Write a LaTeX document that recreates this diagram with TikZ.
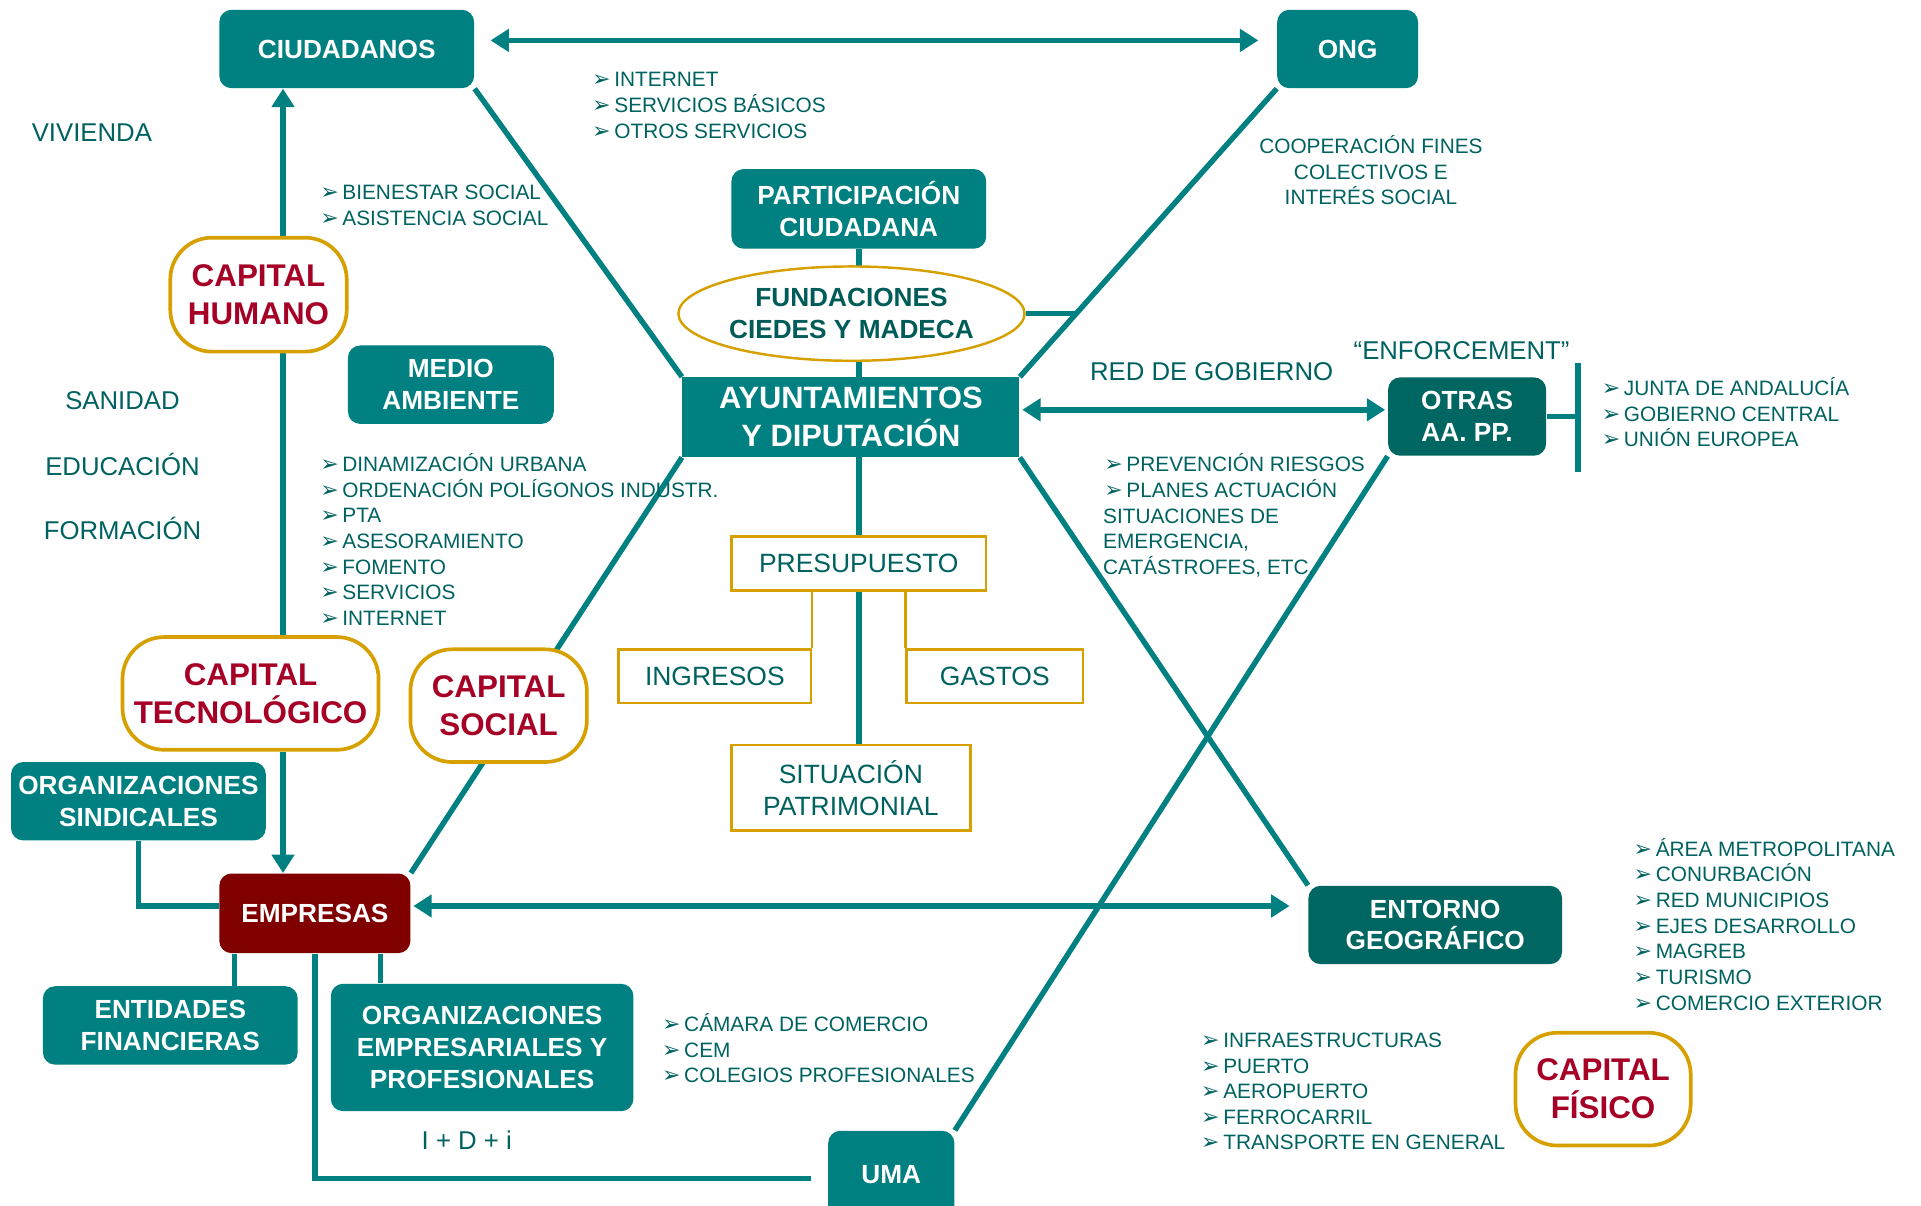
\documentclass[tikz,border=0pt]{standalone}
\usepackage{fontspec}
\setmainfont{Liberation Sans}
\newfontfamily\symb{DejaVu Sans}
\usetikzlibrary{arrows.meta,shapes.geometric,backgrounds}

\definecolor{teal0}{RGB}{0,128,128}
\definecolor{tealdark}{RGB}{0,102,98}
\definecolor{tealtxt}{RGB}{0,98,96}
\definecolor{fundtxt}{RGB}{0,92,88}
\definecolor{gold}{RGB}{214,160,0}
\definecolor{capred}{RGB}{166,0,38}
\definecolor{empred}{RGB}{128,0,0}

\newcommand{\boxfont}{\bfseries\fontsize{10.7}{13}\selectfont}
\newcommand{\bigfont}{\bfseries\fontsize{12.6}{15.5}\selectfont}
\newcommand{\capfont}{\bfseries\fontsize{12.8}{15.5}\selectfont}
\newcommand{\goldfont}{\fontsize{10.8}{13}\selectfont}
\newcommand{\lblfont}{\fontsize{10.5}{13}\selectfont}
\newcommand{\listfont}{\fontsize{8.5}{10.5}\selectfont}
\newcommand{\blt}{{\symb\fontsize{9}{9}\selectfont ➢}\hspace{1.5pt}}

\tikzstyle{box}=[rectangle, fill=teal0, rounded corners=5pt, text=white, font=\boxfont, align=center, inner sep=0pt]
\tikzstyle{darkbox}=[box, fill=tealdark]
\tikzstyle{capital}=[rectangle, draw=gold, line width=1.5pt, fill=white, rounded corners=17pt, text=capred, font=\capfont, align=center, inner sep=0pt]
\tikzstyle{goldbox}=[rectangle, draw=gold, line width=1pt, fill=white, text=tealtxt, font=\goldfont, align=center, inner sep=0pt]
\tikzstyle{fund}=[ellipse, draw=gold, line width=1pt, fill=white, text=fundtxt, font=\boxfont, align=center, inner sep=0pt, minimum width=136pt, minimum height=38.5pt]
\tikzstyle{line}=[draw=teal0, line width=2.2pt]
\tikzstyle{goldline}=[draw=gold, line width=1pt]
\tikzstyle{arr}=[line, -{Triangle[length=7.5pt,width=9pt]}]
\tikzstyle{dblarr}=[line, {Triangle[length=7.5pt,width=9pt]}-{Triangle[length=7.5pt,width=9pt]}]
\tikzstyle{lbl}=[text=tealtxt, font=\lblfont, inner sep=0pt]
\tikzstyle{listtext}=[anchor=base west, text=tealtxt, font=\listfont, inner sep=0pt]

\newcommand{\textlines}[5]{
  \foreach \itm [count=\i] in {#5}
    \node[listtext] (#1\i) at ({#2},{#3+20.9*(\i-1)}) {#4\itm};
}

\begin{document}
\begin{tikzpicture}[x=0.5pt, y=-0.5pt]
  \useasboundingbox (0,0) rectangle (1568,984);

  \node[box, minimum width=104pt, minimum height=32pt] (ciud) at (283,40) {CIUDADANOS};
  \node[box, minimum width=57.5pt, minimum height=32pt] (ong) at (1100,40) {ONG};
  \node[box, minimum width=104pt, minimum height=32.5pt] (part) at (701,170.5) {PARTICIPACIÓN\\CIUDADANA};
  \node[fund] (fund) at (695,256) {FUNDACIONES\\CIEDES Y MADECA};
  \node[box, sharp corners, font=\bigfont, minimum width=137.5pt, minimum height=32.5pt] (ayunt) at (694.5,340.5) {AYUNTAMIENTOS\\Y DIPUTACIÓN};
  \node[box, minimum width=84pt, minimum height=32pt] (medio) at (368,314) {MEDIO\\AMBIENTE};
  \node[darkbox, minimum width=64.5pt, minimum height=32pt] (otras) at (1197.5,340) {OTRAS\\AA. PP.};
  \node[capital, minimum width=72pt, minimum height=46.5pt] (humano) at (211,240.5) {CAPITAL\\HUMANO};
  \node[capital, minimum width=104.5pt, minimum height=46pt] (tecno) at (204.5,566) {CAPITAL\\TECNOLÓGICO};
  \node[capital, minimum width=72pt, minimum height=46pt] (social) at (407,576) {CAPITAL\\SOCIAL};
  \node[capital, minimum width=71.5pt, minimum height=46pt] (fisico) at (1308.5,889) {CAPITAL\\FÍSICO};
  \node[box, minimum width=104pt, minimum height=32pt] (sind) at (113,654) {ORGANIZACIONES\\SINDICALES};
  \node[box, fill=empred, minimum width=78pt, minimum height=32.5pt] (emp) at (257,745.5) {EMPRESAS};
  \node[box, minimum width=104pt, minimum height=32pt] (entid) at (139,837) {ENTIDADES\\FINANCIERAS};
  \node[box, minimum width=123.5pt, minimum height=52pt] (orgemp) at (393.5,855) {ORGANIZACIONES\\EMPRESARIALES Y\\PROFESIONALES};
  \node[box, minimum width=51.5pt, minimum height=36pt] (uma) at (727.5,959) {UMA};
  \node[darkbox, minimum width=103.5pt, minimum height=32pt] (entorno) at (1171.5,755) {ENTORNO\\GEOGRÁFICO};
  \node[goldbox, minimum width=104pt, minimum height=22pt] (presup) at (701,460) {PRESUPUESTO};
  \node[goldbox, minimum width=78.5pt, minimum height=22pt] (ingr) at (583.5,552) {INGRESOS};
  \node[goldbox, minimum width=72pt, minimum height=22pt] (gastos) at (812,552) {GASTOS};
  \node[goldbox, minimum width=97.5pt, minimum height=35pt] (sitpat) at (694.5,643) {SITUACIÓN\\PATRIMONIAL};

  \node[lbl] (viv) at (75,108) {VIVIENDA};
  \node[lbl] (san) at (100,327) {SANIDAD};
  \node[lbl] (edu) at (100,379) {EDUCACIÓN};
  \node[lbl] (form) at (100,431) {FORMACIÓN};
  \node[lbl] (red) at (989,303) {RED DE GOBIERNO};
  \node[lbl] (enf) at (1193,286) {“ENFORCEMENT”};
  \node[lbl, font=\listfont, align=center] (coop) at (1119,139) {COOPERACIÓN FINES\\COLECTIVOS E\\INTERÉS SOCIAL};
  \node[lbl] (imas) at (381,931) {I + D + i};

  \textlines{net}{483}{71}{\blt}{INTERNET, SERVICIOS BÁSICOS, OTROS SERVICIOS}
  \textlines{bien}{261}{163}{\blt}{BIENESTAR SOCIAL, ASISTENCIA SOCIAL}
  \textlines{junta}{1307}{323}{\blt}{JUNTA DE ANDALUCÍA, GOBIERNO CENTRAL, UNIÓN EUROPEA}
  \textlines{din}{261}{385}{\blt}{DINAMIZACIÓN URBANA, ORDENACIÓN POLÍGONOS INDUSTR., PTA, ASESORAMIENTO, FOMENTO, SERVICIOS, INTERNET}
  \textlines{prev}{901}{385}{\blt}{PREVENCIÓN RIESGOS, PLANES ACTUACIÓN}
  \textlines{sit}{900}{427}{}{SITUACIONES DE, {EMERGENCIA,}, {CATÁSTROFES, ETC.}}
  \textlines{area}{1333}{699}{\blt}{ÁREA METROPOLITANA, CONURBACIÓN, RED MUNICIPIOS, EJES DESARROLLO, MAGREB, TURISMO, COMERCIO EXTERIOR}
  \textlines{cam}{540}{842}{\blt}{CÁMARA DE COMERCIO, CEM, COLEGIOS PROFESIONALES}
  \textlines{infra}{980}{855}{\blt}{INFRAESTRUCTURAS, PUERTO, AEROPUERTO, FERROCARRIL, TRANSPORTE EN GENERAL}

  \begin{pgfonlayer}{background}
    \coordinate (vx) at (231,0);
    \coordinate (bartop) at (1288,296);
    \coordinate (barbot) at (1288,385);
    \draw[dblarr, shorten <=6.5pt, shorten >=7.5pt] ([yshift=3.5pt]ciud.east) -- ([yshift=3.5pt]ong.west);
    \draw[arr] (vx |- humano.north) -- (vx |- ciud.south);
    \draw[line] (vx |- humano.south) -- (vx |- tecno.north);
    \draw[arr] (vx |- tecno.south) -- (vx |- emp.north);
    \draw[line] (ciud.south east) -- (ayunt.north west);
    \draw[line] (ong.south west) -- (ayunt.north east);
    \draw[line] (part.south) -- (part.south |- ayunt.north);
    \draw[line] (fund.east) -- ++(20pt,0);
    \draw[dblarr, shorten <=1pt, shorten >=1pt] ([yshift=3pt]ayunt.east) -- ([yshift=3pt]ayunt.east -| otras.west);
    \draw[line] (otras.east) -- (otras.east -| bartop);
    \draw[line] (bartop) -- (barbot);
    \draw[line] (ayunt.south west) -- (emp.north east);
    \draw[line] (presup.north |- ayunt.south) -- (presup.north);
    \draw[line] (presup.south) -- (presup.south |- sitpat.north);
    \draw[goldline] (ingr.north east) -- (ingr.north east |- presup.south);
    \draw[goldline] (gastos.north west) -- (gastos.north west |- presup.south);
    \draw[line] (ayunt.south east) -- (entorno.north west);
    \draw[line] (otras.south west) -- (uma.north east);
    \draw[dblarr, shorten <=1pt, shorten >=7.5pt] ([yshift=3pt]emp.east) -- ([yshift=3pt]emp.east -| entorno.west);
    \draw[line] (sind.south) |- ([yshift=3pt]emp.west);
    \draw[line] ([xshift=6.5pt]emp.south west) -- ([xshift=6.5pt]emp.south west |- entid.north);
    \draw[line] ([xshift=-12.5pt]emp.south east) -- ([xshift=-12.5pt]emp.south east |- orgemp.north);
    \draw[line, shorten >=7pt] (emp.south) |- ([yshift=-1.5pt]uma.west);
  \end{pgfonlayer}
\end{tikzpicture}
\end{document}
